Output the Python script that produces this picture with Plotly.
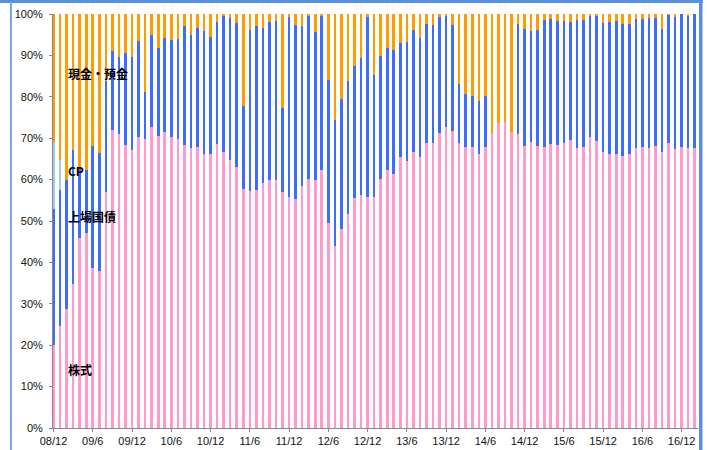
import plotly.graph_objects as go

# Monthly categories 2008/12 - 2017/2
months = ["08/12",
          "09/1", "09/2", "09/3", "09/4", "09/5", "09/6", "09/7", "09/8", "09/9", "09/10", "09/11", "09/12",
          "10/1", "10/2", "10/3", "10/4", "10/5", "10/6", "10/7", "10/8", "10/9", "10/10", "10/11", "10/12",
          "11/1", "11/2", "11/3", "11/4", "11/5", "11/6", "11/7", "11/8", "11/9", "11/10", "11/11", "11/12",
          "12/1", "12/2", "12/3", "12/4", "12/5", "12/6", "12/7", "12/8", "12/9", "12/10", "12/11", "12/12",
          "13/1", "13/2", "13/3", "13/4", "13/5", "13/6", "13/7", "13/8", "13/9", "13/10", "13/11", "13/12",
          "14/1", "14/2", "14/3", "14/4", "14/5", "14/6", "14/7", "14/8", "14/9", "14/10", "14/11", "14/12",
          "15/1", "15/2", "15/3", "15/4", "15/5", "15/6", "15/7", "15/8", "15/9", "15/10", "15/11", "15/12",
          "16/1", "16/2", "16/3", "16/4", "16/5", "16/6", "16/7", "16/8", "16/9", "16/10", "16/11", "16/12",
          "17/1", "17/2"]

tick_labels = ["08/12", "09/6", "09/12", "10/6", "10/12", "11/6", "11/12", "12/6", "12/12",
               "13/6", "13/12", "14/6", "14/12", "15/6", "15/12", "16/6", "16/12"]

# Shares (%) by asset
stocks = [20.0, 24.7, 28.7, 34.9, 46.0, 47.1, 38.7, 37.9, 57.0, 72.0, 71.0, 68.3, 67.1,
          70.2, 69.8, 72.6, 70.6, 71.4, 70.4, 69.8, 68.4, 67.7, 67.9, 66.3, 66.1,
          68.7, 66.7, 64.7, 63.1, 57.7, 57.3, 57.6, 59.1, 59.8, 59.8, 57.1, 55.8,
          55.4, 58.4, 60.1, 59.8, 62.4, 49.4, 44.0, 48.0, 51.6, 55.5, 56.3, 55.8,
          55.8, 60.2, 62.3, 61.3, 65.4, 64.4, 66.7, 65.4, 68.9, 68.9, 71.3, 72.6,
          71.8, 68.9, 67.9, 67.9, 66.3, 67.9, 71.2, 73.6, 74.0, 71.4, 70.9, 68.1,
          69.1, 68.1, 67.8, 68.7, 68.4, 68.9, 69.5, 67.6, 67.9, 70.3, 69.3, 66.6,
          66.3, 66.3, 65.7, 66.1, 67.6, 67.9, 67.6, 68.2, 66.7, 68.9, 67.3, 67.9,
          67.7, 67.7]

jgb = [33.0, 32.8, 31.3, 32.2, 16.8, 15.3, 29.4, 28.6, 26.8, 19.1, 18.7, 22.4, 22.6,
       23.3, 11.4, 22.4, 21.3, 22.9, 23.3, 24.2, 28.8, 27.2, 28.8, 29.7, 28.4,
       29.4, 32.9, 34.4, 34.8, 20.1, 38.8, 39.6, 37.4, 38.3, 38.5, 20.3, 43.4,
       41.9, 38.7, 39.3, 35.9, 37.0, 34.6, 30.3, 31.4, 32.1, 31.9, 33.0, 43.4,
       29.5, 29.6, 29.5, 30.0, 27.7, 28.9, 29.5, 28.9, 28.7, 28.5, 27.9, 27.0,
       25.5, 14.3, 12.8, 12.4, 12.7, 12.4, 0.0, 0.0, 0.0, 0.0, 26.7, 28.2,
       26.8, 28.0, 30.7, 30.0, 29.9, 29.4, 28.6, 30.9, 30.6, 29.3, 30.3, 31.3,
       31.8, 32.0, 32.0, 31.6, 31.2, 30.9, 31.5, 30.9, 29.6, 30.9, 31.9, 32.1,
       31.7, 32.3]

cp = [16.1, 7.2] + [0.0] * 97

cash = [30.9, 35.3, 40.0, 32.9, 37.2, 37.6, 31.9, 33.5, 16.2, 8.9, 10.3, 9.3, 10.3,
        6.5, 18.8, 5.0, 8.1, 5.7, 6.3, 6.0, 2.8, 5.1, 3.3, 4.0, 5.5,
        1.9, 0.4, 0.9, 2.1, 22.2, 3.9, 2.8, 3.5, 1.9, 1.7, 22.6, 0.8,
        2.7, 2.9, 0.6, 4.3, 0.6, 16.0, 25.7, 20.6, 16.3, 12.6, 10.7, 0.8,
        14.7, 10.2, 8.2, 8.7, 6.9, 6.7, 3.8, 5.7, 2.4, 2.6, 0.8, 0.4,
        2.7, 16.8, 19.3, 19.7, 21.0, 19.7, 28.8, 26.4, 26.0, 28.6, 2.4, 3.7,
        4.1, 3.9, 1.5, 1.3, 1.7, 1.7, 1.9, 1.5, 1.5, 0.4, 0.4, 2.1,
        1.9, 1.7, 2.3, 2.3, 1.2, 1.2, 0.9, 0.9, 3.7, 0.2, 0.8, 0.0,
        0.6, 0.0]

series = [
    ("株式", stocks, "#ff9acb"),
    ("上場国債", jgb, "#3d6dff"),
    ("CP", cp, "#9ccbf5"),
    ("現金・預金", cash, "#ff9d00"),
]

fig = go.Figure()
for name, vals, col in series:
    fig.add_trace(go.Bar(x=months, y=vals, name=name, width=0.4,
                         marker=dict(color=col, line=dict(width=0))))

L, R, T, B = 53, 9, 14, 22
W, H = 707, 450
pw, ph = W - L - R, H - T - B

def px(x):
    return (x - L) / pw

def py(y):
    return (H - B - y) / ph

label_font = dict(family="Noto Sans CJK JP", size=12, color="#000000")
labels = [("<b>現金・預金</b>", 73.3), ("<b>CP</b>", 170.7), ("<b>上場国債</b>", 216.7), ("<b>株式</b>", 369.3)]
annotations = [dict(text=t, x=px(66), y=py(yc), xref="paper", yref="paper",
                    xanchor="left", yanchor="middle", showarrow=False, font=label_font)
               for t, yc in labels]

shapes = [
    dict(type="rect", xref="paper", yref="paper", x0=px(0), x1=px(703), y0=py(0), y1=py(3),
         fillcolor="#5b8fd9", line=dict(width=0), layer="above"),
    dict(type="rect", xref="paper", yref="paper", x0=px(10), x1=px(12), y0=py(450), y1=py(2),
         fillcolor="#7aa6e6", line=dict(width=0), layer="above"),
    dict(type="rect", xref="paper", yref="paper", x0=px(699), x1=px(702.5), y0=py(450), y1=py(2),
         fillcolor="#5b8fd9", line=dict(width=0), layer="above"),
]

axis_font = dict(family="Liberation Sans, Arial, sans-serif", size=11, color="#111111")

fig.update_layout(
    width=W, height=H,
    margin=dict(l=L, r=R, t=T, b=B, autoexpand=False),
    barmode="stack",
    showlegend=False,
    plot_bgcolor="#ffffff",
    paper_bgcolor="#ffffff",
    annotations=annotations,
    shapes=shapes,
    xaxis=dict(type="category", range=[-0.08, 98.5], tickmode="array", tickvals=tick_labels,
               ticktext=tick_labels, ticks="outside", ticklen=3, tickcolor="#888888",
               showline=True, linecolor="#888888", linewidth=1, showgrid=False,
               tickfont=axis_font, tickangle=0, automargin=False),
    yaxis=dict(range=[0, 100], tickmode="array", tickvals=list(range(0, 101, 10)),
               ticktext=[f"{v}%" for v in range(0, 101, 10)], ticks="outside", ticklen=3,
               tickcolor="#888888", showline=True, linecolor="#888888", linewidth=1,
               showgrid=False, zeroline=False, tickfont=axis_font, ticklabelstandoff=4,
               automargin=False),
)

fig.write_html("out.html", config={"displayModeBar": False},
               post_script="document.body.style.margin='0';document.body.style.overflow='hidden';")
